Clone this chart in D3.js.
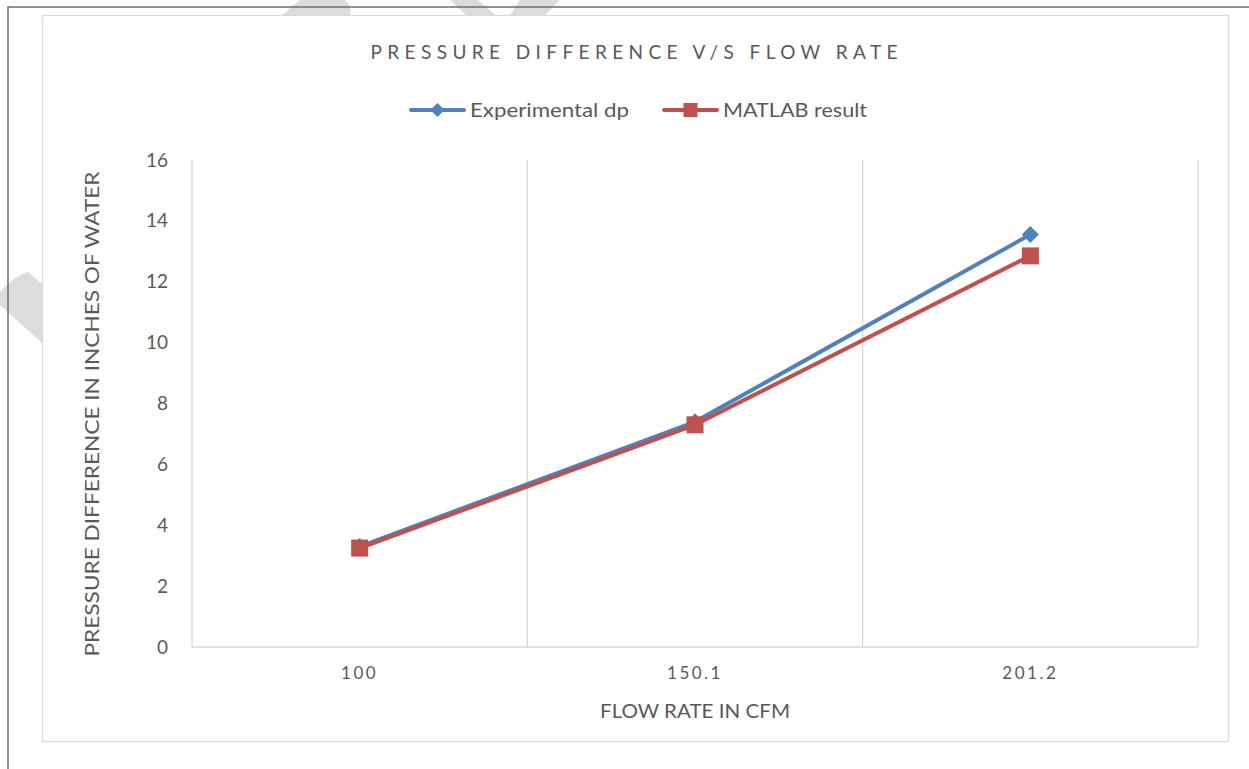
<!DOCTYPE html>
<html>
<head>
<meta charset="utf-8">
<script src="https://cdn.jsdelivr.net/npm/d3@7"></script>
<style>
  body { margin: 0; background: #fff; }
  svg { display: block; }
  text { font-family: Lato, "Open Sans", sans-serif; fill: #595959; }
</style>
</head>
<body>
<div id="main"></div>
<script>
// data
var flowRates = ["100", "150.1", "201.2"]
var experimentalDp = [3.3, 7.4, 13.55]
var matlabResult = [3.25, 7.3, 12.85]
var yTicks = [0, 2, 4, 6, 8, 10, 12, 14, 16]
var seriesNames = ["Experimental dp", "MATLAB result"]

var W = 1249, H = 769
var plot = {left: 192, right: 1198, top: 160, bottom: 647}
var blue = "#4f81bd", red = "#c0504d", grid = "#d9d9d9"

var svg = d3.select("#main").append("svg")
    .attr("width", W)
    .attr("height", H)

// faint watermark bits showing round the chart box
var wm = svg.append("g").attr("fill", "#dcdcdc")
wm.append("path").attr("d", "M282,15 L300,0 L345,0 Q352,6 350,15 Z")
wm.append("path").attr("d", "M450,0 L478,0 L495,15 L466,15 Z")
wm.append("path").attr("d", "M520,0 L560,0 L545,15 L510,15 Z")
wm.append("path").attr("d", "M0,292 Q14,276 28,272 L42,284 L42,343 L0,305 Z")

// page border
svg.append("path")
    .attr("d", "M8," + H + " V7 H" + W)
    .attr("fill", "none")
    .attr("stroke", "#6e6e6e")
    .attr("stroke-width", 1.5)

// chart box
svg.append("rect")
    .attr("x", 42.5).attr("y", 15.5)
    .attr("width", 1186).attr("height", 726)
    .attr("fill", "#fff")
    .attr("stroke", grid)
    .attr("stroke-width", 1.3)

// scales
var x = d3.scaleBand().domain(flowRates).range([plot.left, plot.right])
var y = d3.scaleLinear().domain([0, 16]).range([plot.bottom, plot.top])
var cx = function (d) { return x(d) + x.bandwidth() / 2 }

// vertical gridlines at category boundaries
var bounds = flowRates.map(function (d) { return x(d) }).concat([plot.right])
svg.append("g").selectAll("line")
    .data(bounds)
    .enter().append("line")
    .attr("x1", function (d) { return d }).attr("x2", function (d) { return d })
    .attr("y1", plot.top).attr("y2", plot.bottom)
    .attr("stroke", grid)
    .attr("stroke-width", 1.3)

// category axis line
svg.append("line")
    .attr("x1", plot.left).attr("x2", plot.right)
    .attr("y1", plot.bottom).attr("y2", plot.bottom)
    .attr("stroke", grid)
    .attr("stroke-width", 1.3)

// y axis labels
var yAxis = svg.append("g")
    .attr("transform", "translate(" + (plot.left - 24) + ",0)")
    .call(d3.axisLeft(y).tickValues(yTicks).tickSize(0).tickPadding(0))
yAxis.select(".domain").remove()
yAxis.selectAll("text")
    .attr("font-size", 19)
    .attr("font-family", "Lato, sans-serif")
    .attr("fill", "#595959")

// x axis labels
var xAxis = svg.append("g")
    .attr("transform", "translate(0," + plot.bottom + ")")
    .call(d3.axisBottom(x).tickSize(0).tickPadding(20))
xAxis.select(".domain").remove()
xAxis.selectAll("text")
    .attr("font-size", 17)
    .attr("letter-spacing", "2.5px")
    .attr("font-family", "Lato, sans-serif")
    .attr("fill", "#595959")

// titles
svg.append("text")
    .attr("x", 634).attr("y", 59)
    .attr("text-anchor", "middle")
    .attr("font-size", 19)
    .attr("textLength", 527)
    .attr("lengthAdjust", "spacing")
    .text("PRESSURE DIFFERENCE V/S FLOW RATE")

svg.append("text")
    .attr("x", 695).attr("y", 718)
    .attr("text-anchor", "middle")
    .attr("font-size", 19)
    .attr("textLength", 190)
    .attr("lengthAdjust", "spacingAndGlyphs")
    .text("FLOW RATE IN CFM")

svg.append("text")
    .attr("transform", "translate(99,414) rotate(-90)")
    .attr("text-anchor", "middle")
    .attr("font-size", 20)
    .attr("textLength", 485)
    .attr("lengthAdjust", "spacingAndGlyphs")
    .text("PRESSURE DIFFERENCE IN INCHES OF WATER")

// lines
var line = d3.line()
    .x(function (d) { return cx(d.x) })
    .y(function (d) { return y(d.y) })

var series = [
  {name: seriesNames[0], color: blue, marker: "diamond",
   values: flowRates.map(function (f, i) { return {x: f, y: experimentalDp[i]} })},
  {name: seriesNames[1], color: red, marker: "square",
   values: flowRates.map(function (f, i) { return {x: f, y: matlabResult[i]} })}
]

function drawMarker(g, kind, color, size) {
  if (kind == "diamond") {
    g.append("rect")
      .attr("x", -size / 2).attr("y", -size / 2)
      .attr("width", size).attr("height", size)
      .attr("transform", "rotate(45)")
      .attr("fill", color)
  } else {
    g.append("rect")
      .attr("x", -size / 2).attr("y", -size / 2)
      .attr("width", size).attr("height", size)
      .attr("fill", color)
  }
}

series.forEach(function (s) {
  svg.append("path")
      .datum(s.values)
      .attr("d", line)
      .attr("fill", "none")
      .attr("stroke", s.color)
      .attr("stroke-width", 4)
      .attr("stroke-linejoin", "round")
      .attr("stroke-linecap", "round")
})

series.forEach(function (s) {
  s.values.forEach(function (d) {
    var g = svg.append("g")
        .attr("transform", "translate(" + cx(d.x) + "," + y(d.y) + ")")
    drawMarker(g, s.marker, s.color, s.marker == "diamond" ? 12 : 17)
  })
})

// legend
var legendX = [411, 664]
var legendTextW = [159, 144]
series.forEach(function (s, i) {
  var lg = svg.append("g").attr("transform", "translate(" + legendX[i] + ",110)")
  lg.append("line")
      .attr("x1", 0).attr("x2", 53)
      .attr("stroke", s.color)
      .attr("stroke-width", 4)
      .attr("stroke-linecap", "round")
  var m = lg.append("g").attr("transform", "translate(26.5,0)")
  drawMarker(m, s.marker, s.color, s.marker == "diamond" ? 10 : 14)
  lg.append("text")
      .attr("x", 59).attr("y", 7)
      .attr("font-size", 20)
      .attr("textLength", legendTextW[i])
      .attr("lengthAdjust", "spacingAndGlyphs")
      .text(s.name)
})
</script>
</body>
</html>
